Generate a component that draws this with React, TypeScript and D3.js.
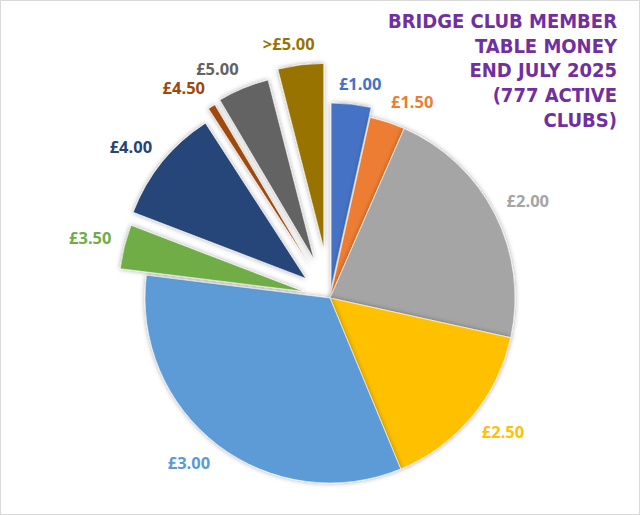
import * as d3 from "d3";

// Table money price bands and number of clubs in each (777 active clubs)
const categories = ["£1.00", "£1.50", "£2.00", "£2.50", "£3.00", "£3.50", "£4.00", "£4.50", "£5.00", ">£5.00"];
const clubs = [27, 24, 170, 119, 258, 30, 78, 5, 35, 31];
const titleLines = ["BRIDGE CLUB MEMBER", "TABLE MONEY", "END JULY 2025", "(777 ACTIVE", "CLUBS)"];

const colors = ["#4472C4", "#ED7D31", "#A5A5A5", "#FFC000", "#5B9BD5", "#70AD47", "#264478", "#9E480E", "#636363", "#997300"];
// how far each slice is pulled out of the pie (px)
const explode = [10, 0, 0, 0, 0, 27, 31, 40, 42, 50];

export default function App() {
  const width = 640;
  const height = 515;
  const cx = 330;
  const cy = 298;
  const radius = 185;
  const labelGap = 14;

  const pie = d3.pie<number>().sort(null).value((d) => d);
  const arcs = pie(clubs);
  const arc = d3.arc<d3.PieArcDatum<number>>().innerRadius(0).outerRadius(radius);

  const clamp = (v: number) => Math.max(-1, Math.min(1, v));

  return (
    <svg width={width} height={height} style={{ position: "absolute", left: 0, top: 0, background: "#fff" }}>
      <defs>
        <filter id="shadow" x="-20%" y="-20%" width="140%" height="140%">
          <feDropShadow dx="0" dy="0" stdDeviation="2.5" floodColor="#000" floodOpacity="0.35" />
        </filter>
      </defs>
      <rect x={0.5} y={0.5} width={width - 1} height={height - 1} fill="#fff" stroke="#d9d9d9" />

      <g transform={`translate(${cx},${cy})`}>
        {arcs.map((a, i) => {
          const mid = (a.startAngle + a.endAngle) / 2;
          const ox = Math.sin(mid) * explode[i];
          const oy = -Math.cos(mid) * explode[i];
          return (
            <path
              key={categories[i]}
              d={arc(a) ?? ""}
              transform={`translate(${ox},${oy})`}
              fill={colors[i]}
              stroke="#fff"
              strokeWidth={0.6}
              filter="url(#shadow)"
            />
          );
        })}

        {arcs.map((a, i) => {
          const mid = (a.startAngle + a.endAngle) / 2;
          const s = Math.sin(mid);
          const c = Math.cos(mid);
          const r = radius + labelGap + explode[i];
          const w = categories[i].length > 5 ? 49 : 41;
          const h = 13;
          const x = s * r + clamp(s * 3.3) * (w / 2);
          const y = -c * r - clamp(c * 3.3) * (h / 2);
          return (
            <text
              key={"l" + categories[i]}
              x={x}
              y={y}
              dy="0.36em"
              textAnchor="middle"
              fill={colors[i]}
              fontFamily="'Open Sans', sans-serif"
              fontWeight="bold"
              fontSize={16.5}
            >
              {categories[i]}
            </text>
          );
        })}
      </g>

      <g fontFamily="'DejaVu Sans Condensed', 'DejaVu Sans', sans-serif" fontWeight="bold" fontSize={20} fill="#7030A0" textAnchor="end">
        {titleLines.map((t, i) => (
          <text key={t} x={617} y={28 + i * 24.7}>
            {t}
          </text>
        ))}
      </g>
    </svg>
  );
}
